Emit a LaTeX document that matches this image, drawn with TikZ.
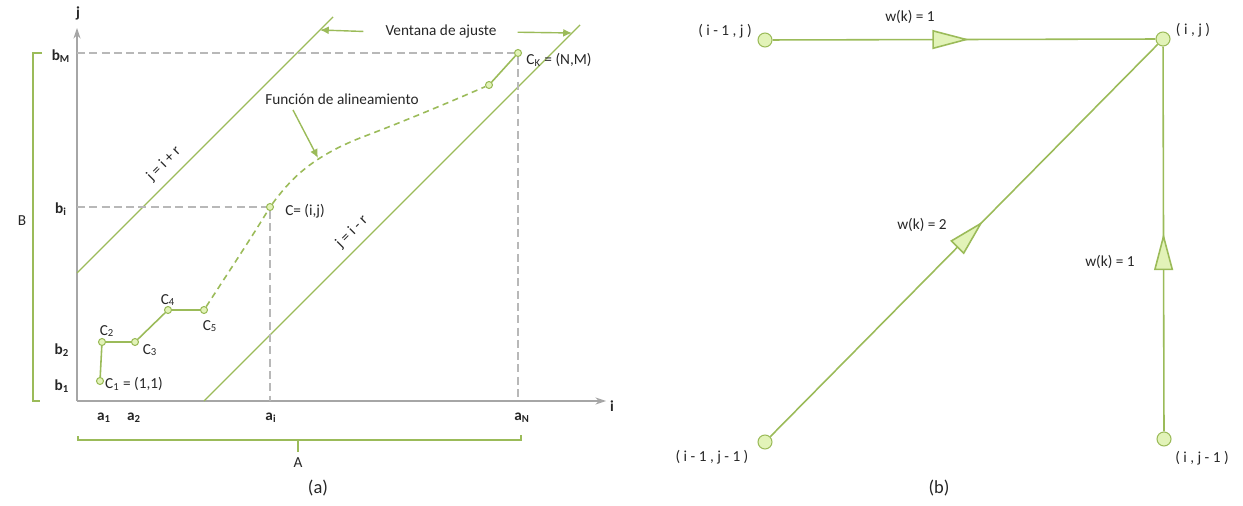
\documentclass[tikz,border=0pt]{standalone}
\usepackage{fontspec}
\setmainfont{Carlito}
\usetikzlibrary{arrows.meta,decorations.markings,positioning}
\definecolor{lgreen}{HTML}{9BBB59}
\definecolor{pfill}{HTML}{E2F3B8}
\definecolor{axgray}{HTML}{A6A6A6}
\definecolor{dgray}{HTML}{B8B8B8}
\definecolor{txt}{HTML}{262626}

\begin{document}
\begin{tikzpicture}[x=0.02cm, y=-0.02cm,
    font=\fontsize{8.7}{10.5}\selectfont, text=txt,
    pt/.style={circle, draw=lgreen, fill=pfill, line width=0.6pt, inner sep=0pt, minimum size=0.14cm},
    bigpt/.style={pt, minimum size=0.28cm},
    axis/.style={draw=axgray, line width=0.6pt, -{Stealth[length=6pt, width=4pt, inset=2pt]}},
    guide/.style={draw=dgray, line width=0.7pt, dash pattern=on 4.5pt off 2.5pt},
    band/.style={draw=lgreen, line width=0.8pt},
    walk/.style={draw=lgreen, line width=0.9pt},
    curve/.style={draw=lgreen, line width=0.9pt, dash pattern=on 3.5pt off 2.5pt},
    brace/.style={draw=lgreen, line width=0.6pt},
    note/.style={draw=lgreen, line width=0.8pt, -{Latex[length=5pt, width=4.5pt]}},
    lbl/.style={font=\fontsize{8.7}{10.5}\selectfont\bfseries},
    move/.style={draw=lgreen, line width=0.9pt, postaction={decorate},
      decoration={markings, mark=at position #1 with {\arrow{Triangle[length=0.74cm, width=0.38cm, fill=pfill]}}}}
  ]
    \useasboundingbox (0,0) rectangle (1243,506);

    % Draw axes
    \coordinate (o) at (77,401);
    \draw[axis] (o) -- (77,28);
    \draw[axis] (o) -- (606,401);
    \node[lbl] (jlab) at (78,13) {j};
    \node[lbl] (ilab) at (612,406) {i};

    % Axis labels
    \node[lbl] (bm) at (61,56) {b\textsubscript{M}};
    \node[lbl] (bi) at (61,209) {b\textsubscript{i}};
    \node[lbl] (b2) at (62,350) {b\textsubscript{2}};
    \node[lbl] (b1) at (62,386) {b\textsubscript{1}};
    \node[lbl] (a1) at (104,418) {a\textsubscript{1}};
    \node[lbl] (a2) at (134,418) {a\textsubscript{2}};
    \node[lbl] (ai) at (271,418) {a\textsubscript{i}};
    \node[lbl] (an) at (522,418) {a\textsubscript{N}};

    % Brackets A and B
    \draw[brace] (42,53) -- (33,53) -- (33,401) -- (40,401);
    \node (blab) at (22,221) {B};
    \draw[brace] (33,221) -- (blab.east);
    \draw[brace] (78,436) -- (78,440) -- (521,440) -- (521,435);
    \node (alab) at (298,463) {A};
    \draw[brace] (298,440) -- (alab.north);

    % Adjustment window
    \draw[band] (77,273) -- (333,17);
    \draw[band] (204,401) -- (580,25);
    \node[rotate=45] (upper) at (164,164) {j = i + r};
    \node[rotate=45] (lower) at (352,232) {j = i - r};
    \node (vent) at (441,32) {Ventana de ajuste};
    \coordinate (wl) at (320,30);
    \coordinate (wr) at (572,33);
    \draw[note, shorten <=0.32cm] (vent.west) -- (wl);
    \draw[note, shorten <=0.3cm] (vent.east) -- (wr);

    % Warping path points
    \node[pt] (c1) at (100,381) {};
    \node[pt] (c2) at (102,342) {};
    \node[pt] (c3) at (135,342) {};
    \node[pt] (c4) at (168,310) {};
    \node[pt] (c5) at (204,310) {};
    \node[pt] (cij) at (270,207) {};
    \node[pt] (c6) at (489,85) {};
    \node[pt] (ck) at (518,53) {};

    % Guide lines
    \draw[guide] (o |- ck) -- (ck) -- (o -| ck);
    \draw[guide] (o |- cij) -- (cij) -- (o -| cij);

    % Warping path
    \draw[walk] (c1) -- (c2) -- (c3) -- (c4) -- (c5);
    \draw[curve] (c5) .. controls (230,270) and (255,232) .. (cij)
      .. controls (290,180) and (310,158) .. (360,138)
      .. controls (405,121) and (450,102) .. (c6);
    \draw[walk] (c6) -- (ck);

    % Point labels
    \node (lc1) at (134,384) {C\textsubscript{1} = (1,1)};
    \node (lc2) at (107,331) {C\textsubscript{2}};
    \node (lc3) at (150,350) {C\textsubscript{3}};
    \node (lc4) at (168,300) {C\textsubscript{4}};
    \node (lc5) at (210,326) {C\textsubscript{5}};
    \node (lcij) at (305,211) {C= (i,j)};
    \node (lck) at (559,60) {C\textsubscript{K} = (N,M)};

    % Alignment function label
    \node (fun) at (342,99) {Función de alineamiento};
    \coordinate (funtip) at (318,158);
    \draw[note] (293,110) -- (funtip);

    \node[font=\fontsize{10.5}{12}\selectfont] (capa) at (318,488) {(a)};

    % Local step pattern
    \node[bigpt] (p10) at (765,40) {};
    \node[bigpt] (p11) at (1163,39) {};
    \node[bigpt] (p00) at (765,442) {};
    \node[bigpt] (p01) at (1164,439) {};
    \draw[move=0.514] (p10) -- (p11);
    \draw[move=0.549] (p00) -- (p11);
    \draw[move=0.515] (p01) -- (p11);

    \node (l10) at (725,31) {( i - 1 , j )};
    \node (l11) at (1193,30) {( i , j )};
    \node (l00) at (712,457) {( i - 1 , j - 1 )};
    \node (l01) at (1202,458) {( i , j - 1 )};
    \node (w1) at (910,17) {w(k) = 1};
    \node (w2) at (922,225) {w(k) = 2};
    \node (w3) at (1110,262) {w(k) = 1};

    \node[font=\fontsize{10.5}{12}\selectfont] (capb) at (939,488) {(b)};
\end{tikzpicture}
\end{document}
